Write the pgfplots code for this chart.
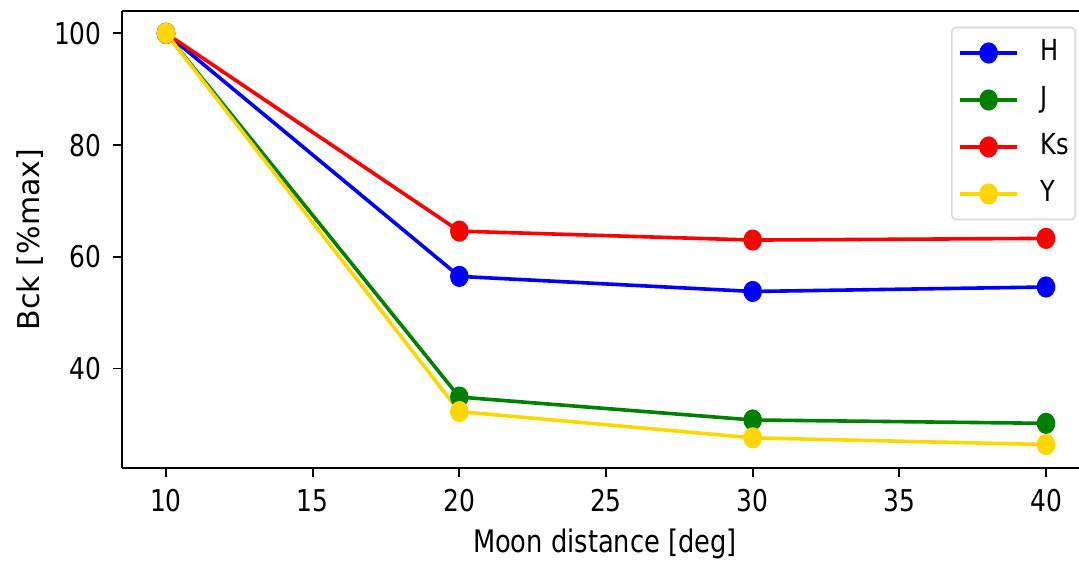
\documentclass[border=0pt]{standalone}
\usepackage{fontspec}
\setmainfont{DejaVu Sans}[FakeStretch=0.83]
\newfontfamily\ylabfont{DejaVu Sans}
\usepackage{pgfplots}
\pgfplotsset{compat=1.18}
\usetikzlibrary{calc}

\definecolor{cH}{RGB}{0,0,255}
\definecolor{cJ}{RGB}{0,128,0}
\definecolor{cK}{RGB}{255,0,0}
\definecolor{cY}{RGB}{255,215,0}

\begin{document}
\begin{tikzpicture}
\begin{axis}[
  scale only axis,
  width=478.5bp, height=228.5bp,
  xmin=8.5, xmax=41.125, ymin=22.2, ymax=104,
  axis x line=box, axis y line=left,
  axis line style={-, line width=1bp, black},
  every outer y axis line/.append style={-},
  xtick={10,15,...,40}, ytick={40,60,80,100},
  xtick pos=bottom, ytick pos=left,
  tick align=outside, major tick length=4.5bp,
  tick style={line width=0.9bp, black},
  tick label style={font=\fontsize{15bp}{18bp}\selectfont},
  /pgf/number format/assume math mode=true,
  yticklabel style={anchor=east, inner sep=0pt, xshift=-5.5bp},
  xticklabel style={anchor=north, inner sep=0pt, yshift=-6bp},
  xlabel={Moon distance [deg]},
  xlabel style={at={(axis description cs:0.5047,0)}, anchor=base,
    yshift=-42.2bp, inner sep=0pt, font=\fontsize{15.5bp}{18bp}\selectfont},
  ylabel={Bck [\%max]},
  ylabel style={at={(axis description cs:0,0.5)}, anchor=base,
    yshift=41bp, inner sep=0pt, font=\ylabfont\fontsize{15bp}{18bp}\selectfont},
  every axis plot/.append style={line width=1.8bp, line join=round},
  mark size=4.4bp,
  legend image code/.code={
    \draw[mark repeat=2, mark phase=2, #1]
      plot coordinates {(0bp,0bp) (14.25bp,0bp) (28.5bp,0bp)};
  },
  legend cell align=left,
  legend style={at={(1,1)}, anchor=north east, xshift=-1.5bp, yshift=-7.85bp,
    draw=black!15, rounded corners=2bp, line width=0.8bp,
    inner xsep=3.2bp, inner ysep=6bp, row sep=10bp, column sep=10.8bp,
    font=\fontsize{14.5bp}{17bp}\selectfont,
    nodes={inner sep=0pt, text height=10.5bp, text depth=3bp}},
]
\coordinate (sw) at (rel axis cs:0,0);
\coordinate (ne) at (rel axis cs:1,1);

\addplot[color=cH, mark=*, mark options={solid, xscale=0.85}]
  coordinates {(10,100) (20,56.5) (30,53.8) (40,54.6)};
\addlegendentry{H}
\addplot[color=cJ, mark=*, mark options={solid, xscale=0.85}]
  coordinates {(10,100) (20,34.9) (30,30.8) (40,30.2)};
\addlegendentry{J}
\addplot[color=cK, mark=*, mark options={solid, xscale=0.85}]
  coordinates {(10,100) (20,64.6) (30,63.0) (40,63.3)};
\addlegendentry{Ks}
\addplot[color=cY, mark=*, mark options={solid, xscale=0.85}]
  coordinates {(10,100) (20,32.3) (30,27.6) (40,26.4)};
\addlegendentry{Y}
\end{axis}
\pgfresetboundingbox
\path[use as bounding box] ($(sw)+(-61bp,-46bp)$) rectangle ($(ne)+(0bp,5.5bp)$);
\end{tikzpicture}
\end{document}
